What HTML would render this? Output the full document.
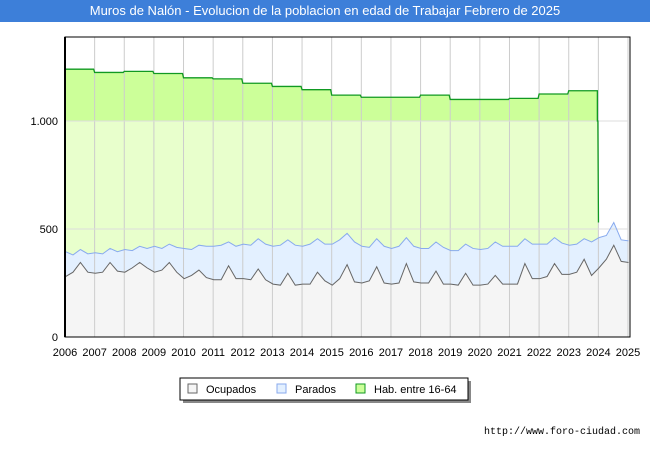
<!DOCTYPE html>
<html><head><meta charset="utf-8"><style>
body{margin:0;width:650px;height:450px;background:#fff;font-family:"Liberation Sans",sans-serif;position:relative;overflow:hidden}
#title{position:absolute;left:0;top:0;width:650px;height:22px;background:#3d7fd9;color:#fff;font-size:13px;line-height:22px;text-align:center}
#url{position:absolute;right:10px;top:427px;font-size:10px;color:#000;font-family:"Liberation Mono",monospace}
</style></head><body>
<div id="title">Muros de Nalón - Evolucion de la poblacion en edad de Trabajar Febrero de 2025</div>
<svg id="chart" width="650" height="450" style="position:absolute;left:0;top:0"></svg>
<div id="url">http://www.foro-ciudad.com</div>
<script>
const years=[2006,2007,2008,2009,2010,2011,2012,2013,2014,2015,2016,2017,2018,2019,2020,2021,2022,2023,2024,2025];
const habYearly=[1240,1225,1230,1220,1200,1195,1175,1160,1145,1120,1110,1110,1120,1100,1100,1105,1125,1140];
const habTail=[1000,770,530];
const ocupados=[280,300,345,300,295,300,345,305,300,320,345,320,300,310,345,300,270,285,310,275,265,265,330,270,270,265,315,265,245,240,295,240,245,245,300,260,240,270,335,255,250,260,325,250,245,250,340,255,250,250,305,245,245,240,295,240,240,245,285,245,245,245,340,270,270,280,340,290,290,300,360,285,320,360,425,350,345];
const parados=[395,380,405,385,390,385,410,395,405,400,420,410,420,410,430,415,410,405,425,420,420,425,440,420,430,425,455,430,420,425,450,425,420,430,455,430,430,450,480,440,420,415,455,420,410,420,460,420,410,410,440,415,400,400,430,410,405,410,440,420,420,420,455,430,430,430,460,435,425,430,455,440,460,470,530,450,445];
const yTicks=[0,500,1000];
const yTickLabels=["0","500","1.000"];
const svg=document.getElementById('chart');const NS='http://www.w3.org/2000/svg';
const X0=65,X1=628,Y0=337,YT=37,VMAX=1389;
const xs=t=>X0+(t-2006)/(2025-2006)*(X1-X0);
const ys=v=>Y0-v/VMAX*(Y0-YT);
function mk(tag,attrs,name){const e=document.createElementNS(NS,tag);for(const k in attrs)e.setAttribute(k,attrs[k]);


svg.appendChild(e);return e;}
const qt=i=>2006+i/4+0.02;
// hab path
let hp=`M${xs(2006)},${ys(habYearly[0])}`;
habYearly.forEach((v,i)=>{hp+=` L${xs(2006+i)},${ys(v)} L${xs(2007+i)-1},${ys(v)}`;});
const tEnd=2006+habYearly.length;
hp+=` L${xs(tEnd)-1},${ys(habTail[0])}`;
habTail.forEach((v,i)=>{hp+=` L${xs(tEnd)-0.5+i*0.3},${ys(v)}`;});
const hfill=hp+` L${xs(tEnd)+0.5},${Y0} L${xs(2006)},${Y0} Z`;
const defs=mk('defs',{},'defs');
const cp=document.createElementNS(NS,'clipPath');cp.setAttribute('id','above');
const cr=document.createElementNS(NS,'rect');cr.setAttribute('x',0);cr.setAttribute('y',0);cr.setAttribute('width',650);cr.setAttribute('height',ys(1000));cp.appendChild(cr);defs.appendChild(cp);
mk('path',{d:hfill,fill:'#e8ffcc'},'hab-area');
mk('path',{d:hfill,fill:'#ccff99','clip-path':'url(#above)'},'hab-area-top');
function line(arr){return arr.map((v,i)=>`${i?'L':'M'}${xs(qt(i))},${ys(v)}`).join(' ');}
const n=parados.length;
mk('path',{d:line(parados)+` L${xs(qt(n-1))},${Y0} L${xs(qt(0))},${Y0} Z`,fill:'#e3f0ff'},'parados-area');
mk('path',{d:line(ocupados)+` L${xs(qt(n-1))},${Y0} L${xs(qt(0))},${Y0} Z`,fill:'#f5f5f5'},'ocupados-area');
// grid
years.forEach((y,i)=>{if(i>0)mk('line',{x1:xs(y),x2:xs(y),y1:YT,y2:Y0,stroke:'#ccc','stroke-width':1},'x-gridline');
const t=mk('text',{x:xs(y),y:356,'text-anchor':'middle','font-size':11,fill:'#000'},'x-tick-label');t.textContent=y;});
yTicks.forEach((v,i)=>{if(v>0)mk('line',{x1:X0,x2:X1,y1:ys(v),y2:ys(v),stroke:'#ddd','stroke-width':1},'y-gridline');
const t=mk('text',{x:58,y:ys(v)+4,'text-anchor':'end','font-size':11,fill:'#000'},'y-tick-label');t.textContent=yTickLabels[i];});
mk('path',{d:hp,fill:'none',stroke:'#119922','stroke-width':1.3},'hab-line');
mk('path',{d:line(parados),fill:'none',stroke:'#88aaee','stroke-width':1},'parados-line');
mk('path',{d:line(ocupados),fill:'none',stroke:'#666','stroke-width':1},'ocupados-line');
mk('rect',{x:X0,y:YT,width:X1-X0+2,height:Y0-YT,fill:'none',stroke:'#000','stroke-width':1},'plot-frame');
mk('line',{x1:X0,x2:X0,y1:YT,y2:Y0,stroke:'#000','stroke-width':2},'y-axis');
// legend
mk('rect',{x:183,y:381,width:288,height:22,fill:'#888'},'legend-shadow');
mk('rect',{x:180,y:378,width:288,height:22,fill:'#fff',stroke:'#000','stroke-width':1},'legend');
const leg=[['Ocupados','#f5f5f5','#666',188],['Parados','#e3f0ff','#88aaee',277],['Hab. entre 16-64','#ccff99','#119922',356]];
leg.forEach(l=>{mk('rect',{x:l[3],y:384,width:9,height:9,fill:l[1],stroke:l[2]},'legend-swatch');
const t=mk('text',{x:l[3]+18,y:393,'font-size':11,fill:'#000'},'legend-label');t.textContent=l[0];});
</script>
</body></html>
